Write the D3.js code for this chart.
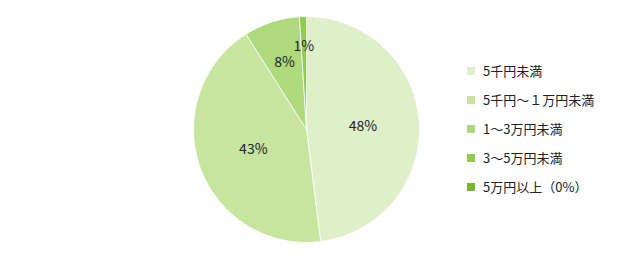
<!DOCTYPE html>
<html>
<head>
<meta charset="utf-8">
<script src="https://cdn.jsdelivr.net/npm/d3@7"></script>
<style>
  body { margin: 0; background: #fff; }
  text { font-family: "Noto Sans CJK JP", "Noto Sans", sans-serif; }
</style>
</head>
<body>
<svg id="chart" width="624" height="262"></svg>
<script>
// 金額区分
var categories = ["5千円未満", "5千円～１万円未満", "1～3万円未満", "3～5万円未満", "5万円以上（0%）"];
// 割合(%)
var values = [48, 43, 8, 1, 0];
var colors = ["#deefca", "#c6e59f", "#aed97c", "#8ecc4d", "#76b72e"];

var svg = d3.select("#chart");
var cx = 306.5, cy = 129.5, r = 113;

var pie = d3.pie().sort(null).value(function (d) { return d.v; });
var arcs = pie(values.map(function (v, i) { return { v: v, i: i }; }));
var arc = d3.arc().innerRadius(0).outerRadius(r);

var g = svg.append("g").attr("transform", "translate(" + cx + "," + cy + ")");

// 扇形
g.selectAll("path")
  .data(arcs.filter(function (d) { return d.data.v > 0; }))
  .enter()
  .append("path")
  .attr("d", arc)
  .attr("fill", function (d) { return colors[d.data.i]; })
  .attr("stroke", "#ffffff")
  .attr("stroke-width", 0.8);

// ラベル（小さい扇形は外側寄り）
function labelR(v) {
  if (v >= 20) return r * 0.5;
  if (v >= 5) return r * 0.63;
  return r * 0.74;
}
g.selectAll("text.lbl")
  .data(arcs.filter(function (d) { return d.data.v > 0; }))
  .enter()
  .append("text")
  .attr("class", "lbl")
  .attr("transform", function (d) {
    var lr = labelR(d.data.v);
    return "translate(" + d3.arc().innerRadius(lr).outerRadius(lr).centroid(d) + ")";
  })
  .attr("text-anchor", "middle")
  .attr("dy", "0.35em")
  .style("font-size", "14px")
  .style("fill", "#222")
  .text(function (d) { return d.data.v + "%"; });

// 凡例
var legend = svg.append("g").attr("transform", "translate(467,71)");
var item = legend.selectAll("g")
  .data(categories)
  .enter()
  .append("g")
  .attr("transform", function (d, i) { return "translate(0," + (i * 29) + ")"; });
item.append("rect")
  .attr("x", 0).attr("y", -4)
  .attr("width", 8).attr("height", 8)
  .attr("fill", function (d, i) { return colors[i]; });
item.append("text")
  .attr("x", 16)
  .attr("dy", "0.35em")
  .style("font-size", "13px")
  .style("fill", "#222")
  .text(function (d) { return d; });
</script>
</body>
</html>
